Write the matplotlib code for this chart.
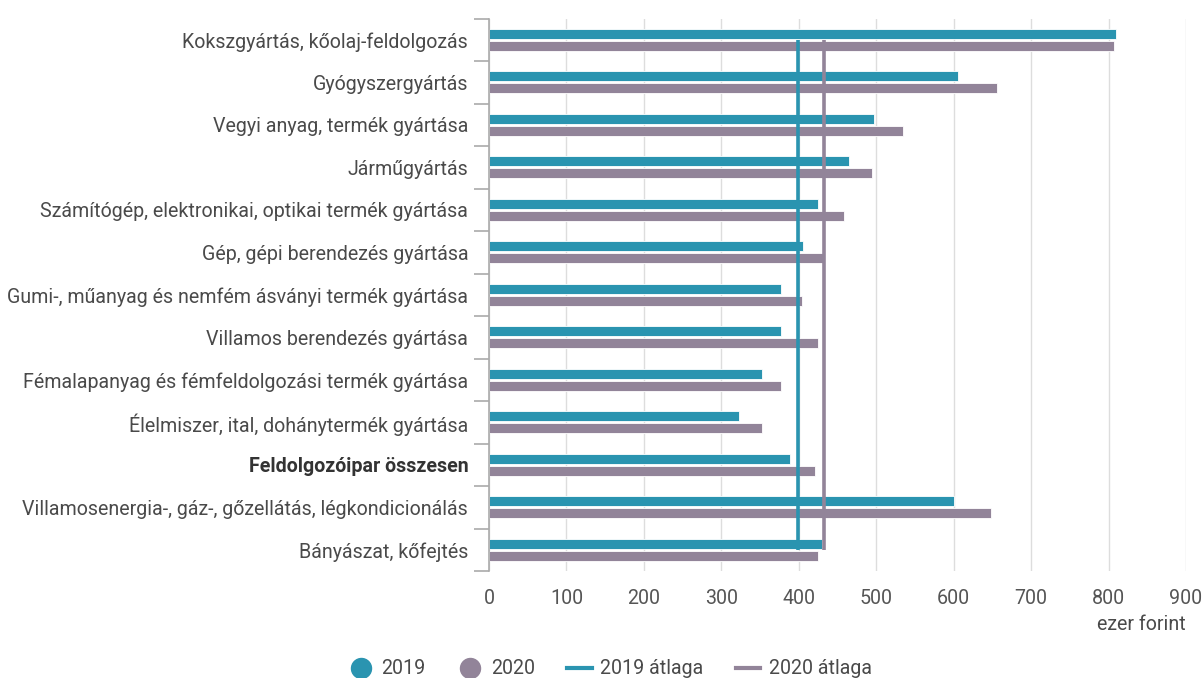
import matplotlib
matplotlib.use("Agg")
import matplotlib.pyplot as plt
import numpy as np
from matplotlib.lines import Line2D

categories = [
    "Kokszgyártás, kőolaj-feldolgozás",
    "Gyógyszergyártás",
    "Vegyi anyag, termék gyártása",
    "Járműgyártás",
    "Számítógép, elektronikai, optikai termék gyártása",
    "Gép, gépi berendezés gyártása",
    "Gumi-, műanyag és nemfém ásványi termék gyártása",
    "Villamos berendezés gyártása",
    "Fémalapanyag és fémfeldolgozási termék gyártása",
    "Élelmiszer, ital, dohánytermék gyártása",
    "Feldolgozóipar összesen",
    "Villamosenergia-, gáz-, gőzellátás, légkondicionálás",
    "Bányászat, kőfejtés",
]
values_2019 = [809, 605, 497, 465, 425, 406, 377, 377, 352, 323, 389, 600, 430]
values_2020 = [807, 656, 535, 494, 459, 433, 404, 425, 377, 352, 421, 648, 425]
avg_2019 = 399
avg_2020 = 432
xticks = [0, 100, 200, 300, 400, 500, 600, 700, 800, 900]

c19 = "#2a94b0"
c20 = "#928499"
txt = "#4a4a4a"
fs = 14.1

plt.rcParams["font.family"] = ["Roboto", "DejaVu Sans"]

fig = plt.figure(figsize=(12.04, 6.78), dpi=100)
ax = fig.add_axes([489/1204, 1-571/678, (1186-489)/1204, (571-18.5)/678])

y = np.arange(len(categories))
h = 0.235
off = 0.137
ax.barh(y - off, values_2019, height=h, color=c19, edgecolor="white", linewidth=0.6, zorder=3)
ax.barh(y + off, values_2020, height=h, color=c20, edgecolor="white", linewidth=0.6, zorder=3)

ax.plot([avg_2019, avg_2019], [0, len(categories)-1], color=c19, lw=2.6, zorder=4, solid_capstyle="butt")
ax.plot([avg_2020, avg_2020], [0, len(categories)-1], color=c20, lw=2.6, zorder=4, solid_capstyle="butt")

ax.set_xlim(0, 900)
ax.set_ylim(len(categories)-0.5, -0.5)
ax.set_xticks(xticks)
ax.set_xticklabels([str(v) for v in xticks], color="#555555", fontsize=fs)
ax.tick_params(axis="x", length=0, pad=13)
ax.grid(axis="x", color="#dddddd", lw=1, zorder=0)

ax.set_yticks(y)
ax.set_yticklabels(categories, fontsize=fs, color=txt)
ax.tick_params(axis="y", length=0, pad=15)
ax.set_yticks(np.arange(-0.5, len(categories), 1), minor=True)
ax.tick_params(axis="y", which="minor", length=11, color="#aaaaaa", width=1.2)
for lbl in ax.get_yticklabels():
    if lbl.get_text() == "Feldolgozóipar összesen":
        lbl.set_fontweight("bold")
        lbl.set_color("#333333")

for s in ["top", "right", "bottom"]:
    ax.spines[s].set_visible(False)
ax.spines["left"].set_color("#aaaaaa")
ax.spines["left"].set_linewidth(1.2)
ax.spines["left"].set_zorder(5)

fig.text(1141/1204, 1-625/678, "ezer forint", ha="center", va="center", fontsize=fs, color=txt)

handles = [
    Line2D([], [], marker="o", ls="none", color=c19, markersize=14.4),
    Line2D([], [], marker="o", ls="none", color=c20, markersize=14.4),
    Line2D([], [], color=c19, lw=3),
    Line2D([], [], color=c20, lw=3),
]
labels = ["2019", "2020", "2019 átlaga", "2020 átlaga"]
fig.legend(handles, labels, loc="center", bbox_to_anchor=(610/1204, 1-669/678), ncol=4,
           frameon=False, fontsize=fs, handlelength=1.26, handletextpad=0.42, columnspacing=1.65,
           labelcolor=txt, borderaxespad=0, borderpad=0)

fig.savefig("out.png", dpi=100)
